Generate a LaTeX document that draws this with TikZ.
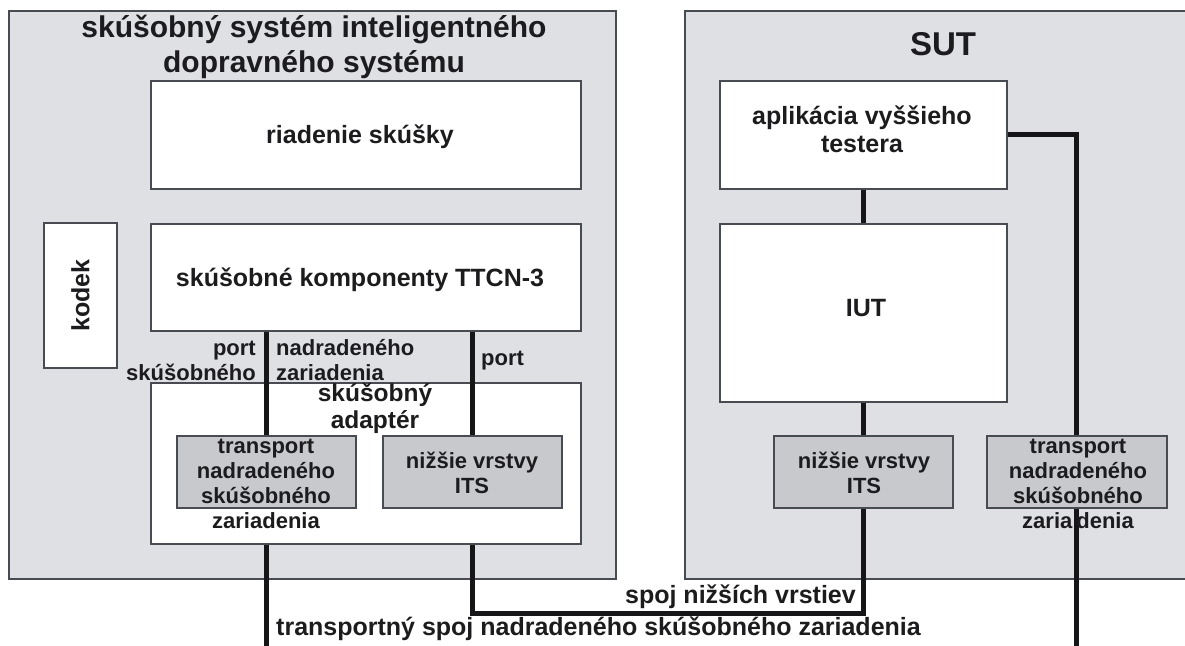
\documentclass[tikz,border=0pt]{standalone}
\usepackage{fontspec}
\setmainfont{Liberation Sans}
\usetikzlibrary{calc}
\definecolor{panelgray}{RGB}{222,224,228}
\definecolor{layergray}{RGB}{199,201,204}
\definecolor{edgegray}{RGB}{72,76,82}
\definecolor{wire}{RGB}{22,22,24}
\definecolor{ink}{RGB}{28,28,30}
\begin{document}
\begin{tikzpicture}[x=1pt,y=-1pt,
  panel/.style={draw=edgegray, line width=2pt, fill=panelgray, anchor=north west, inner sep=0pt},
  box/.style={draw=edgegray, line width=1.8pt, fill=white, anchor=north west, inner sep=0pt},
  layerbox/.style={box, fill=layergray},
  conn/.style={draw=wire, line width=5pt},
  big/.style={text=ink, inner sep=0pt, font=\bfseries\fontsize{25}{28}\selectfont, align=center},
  small/.style={text=ink, inner sep=0pt, font=\bfseries\fontsize{22}{25}\selectfont, align=center},
  heading/.style={text=ink, inner sep=0pt, font=\bfseries\fontsize{30}{35}\selectfont, align=center},
]
\clip (0,0) rectangle (1185,645);
\fill[white] (0,0) rectangle (1185,645);

% the two systems
\node[panel, minimum width=607pt, minimum height=568pt] (tsys) at (8,10) {};
\node[panel, minimum width=520pt, minimum height=568pt] (sut) at (684,10) {};

% white blocks
\node[box, minimum width=430pt, minimum height=108pt] (riad)  at (150,80)  {};
\node[box, minimum width=430pt, minimum height=107pt] (ttcn)  at (150,223) {};
\node[box, minimum width=73pt,  minimum height=145pt] (kodek) at (43,222)  {};
\node[box, minimum width=430pt, minimum height=161pt] (adapt) at (150,382) {};
\node[box, minimum width=287pt, minimum height=108pt] (app)   at (719,80)  {};
\node[box, minimum width=287pt, minimum height=178pt] (iut)   at (719,223) {};

% layer blocks (placed now, drawn after the connectors)
\coordinate (tr1pos) at (176,435);
\coordinate (nl1pos) at (382,435);
\coordinate (nl2pos) at (773,435);
\coordinate (tr2pos) at (986,435);
\path (tr1pos) ++(90.4,0) coordinate (tr1top) ++(0,72) coordinate (tr1bot);
\path (nl1pos) ++(90.4,0) coordinate (nl1top) ++(0,72) coordinate (nl1bot);
\path (nl2pos) ++(90.4,0) coordinate (nl2top) ++(0,72) coordinate (nl2bot);
\path (tr2pos) ++(90.9,0) coordinate (tr2top) ++(0,72) coordinate (tr2bot);
\coordinate (floor) at (0,665);
\coordinate (lowbus) at (0,613);

% connectors
\draw[conn] (tr1top |- ttcn.south) -- (tr1top);
\draw[conn] (nl1top |- ttcn.south) -- (nl1top);
\draw[conn] (tr1bot |- adapt.south) -- (tr1bot |- floor);
\draw[conn] (nl1bot |- adapt.south) -- (nl1bot |- lowbus) -| (nl2bot);
\draw[conn] (app.south) -- (iut.north);
\draw[conn] (nl2top |- iut.south) -- (nl2top);
\draw[conn] (app.east) -| (tr2top |- floor);

% layer blocks
\node[layerbox, minimum width=179pt, minimum height=72pt] (tr1) at (tr1pos) {};
\node[layerbox, minimum width=179pt, minimum height=72pt] (nl1) at (nl1pos) {};
\node[layerbox, minimum width=179pt, minimum height=72pt] (nl2) at (nl2pos) {};
\node[layerbox, minimum width=180pt, minimum height=72pt] (tr2) at (tr2pos) {};

% headings (multi-line nodes are placed by the baseline of their last line)
\node[heading, anchor=base] (tsystitle) at (314,72) {skúšobný systém inteligentného\\dopravného systému};
\node[heading, anchor=base, font=\bfseries\fontsize{33}{38}\selectfont] (suttitle) at (943,55) {SUT};

% block texts
\node[big, anchor=base] (riadtxt) at (360,143) {riadenie skúšky};
\node[big, anchor=base] (ttcntxt) at (360,286) {skúšobné komponenty TTCN-3};
\node[big, anchor=base, rotate=90] (kodektxt) at ([xshift=9pt]kodek.center) {kodek};
\node[big, anchor=base, font=\bfseries\fontsize{24.5}{26.5}\selectfont] (adapttxt) at (375,428) {skúšobný\\adaptér};
\node[big, anchor=base] (apptxt) at (862,152) {aplikácia vyššieho\\testera};
\node[big, anchor=base] (iuttxt) at (866,316) {IUT};

% layer texts
\node[small, anchor=base] (tr1txt) at (266,528) {transport\\nadradeného\\skúšobného\\zariadenia};
\node[small, anchor=base] (nl1txt) at (472,493) {nižšie vrstvy\\ITS};
\node[small, anchor=base] (nl2txt) at (864,493) {nižšie vrstvy\\ITS};
\node[small, anchor=base] (tr2txt) at (1078,528) {transport\\nadradeného\\skúšobného\\zaria\hspace{4pt}denia};

% port labels
\node[small, anchor=base east] (portA) at (256,355) {port};
\node[small, anchor=base east] (portB) at (256,380) {skúšobného};
\node[small, anchor=base west] (portC) at (276,355) {nadradeného};
\node[small, anchor=base west] (portD) at (276,380) {zariadenia};
\node[small, anchor=base west] (portE) at (481,365) {port};

% link labels
\node[big, anchor=base east] (lowlink) at (856,603) {spoj nižších vrstiev};
\node[big, anchor=base west] (translink) at (276,635) {transportný spoj nadradeného skúšobného zariadenia};
\end{tikzpicture}
\end{document}
